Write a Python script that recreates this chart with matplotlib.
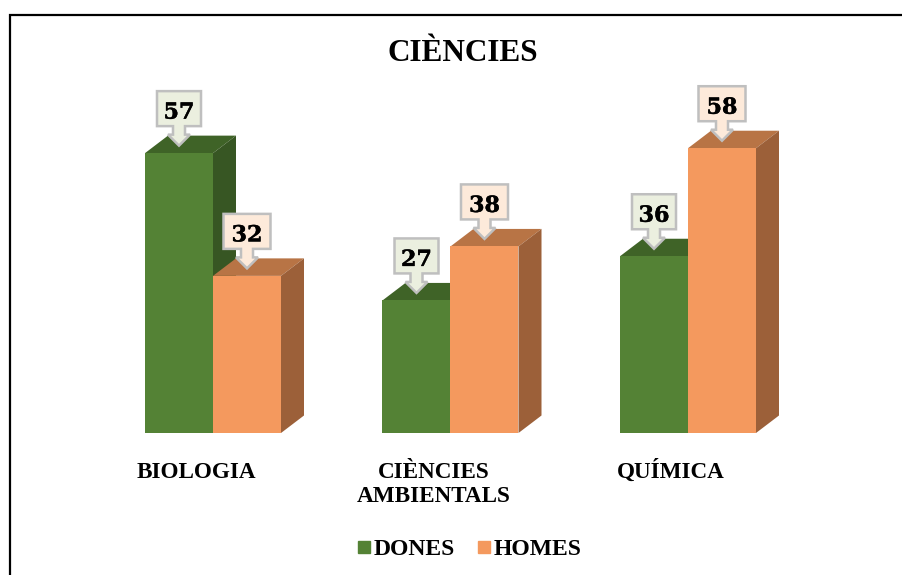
import matplotlib
matplotlib.use('Agg')
import matplotlib.pyplot as plt
import matplotlib.patheffects as pe
from matplotlib.patches import Polygon
from matplotlib.lines import Line2D

# data
categories = ['BIOLOGIA', 'CIÈNCIES\nAMBIENTALS', 'QUÍMICA']
dones = [57, 27, 36]
homes = [32, 38, 58]

SERIF = ['Liberation Serif', 'DejaVu Serif']

# size of one pixel in data units
px_x = 1 / 237.5
px_y = 1 / 4.91

width = 68 * px_x
depth_x = 23 * px_x
depth_y = 17.5 * px_y

fig = plt.figure(figsize=(9.03, 5.75), dpi=100, facecolor='white')
ax = fig.add_axes([0, 0, 1, 1])
ax.set_xlim(-213 * px_x, (903 - 213) * px_x)
ax.set_ylim(-(575 - 433) * px_y, 433 * px_y)
ax.axis('off')


def draw_bars(xs, values, front, top, side, label, z):
    bars = ax.bar(xs, values, width=width, align='edge', color=front, label=label, zorder=z + 1)
    for x, v in zip(xs, values):
        # top and side faces of the fake 3d bar
        ax.add_patch(Polygon([(x, v), (x + width, v), (x + width + depth_x, v + depth_y), (x + depth_x, v + depth_y)],
                             facecolor=top, edgecolor='none', zorder=z))
        ax.add_patch(Polygon([(x + width, 0), (x + width + depth_x, depth_y), (x + width + depth_x, v + depth_y), (x + width, v)],
                             facecolor=side, edgecolor='none', zorder=z))
    return bars


def callout(x, v, fill, box_w, box_h=35):
    # tip sits just above the front face, centred on the bar
    cx = x + width / 2
    tip = v + 7.5 * px_y
    head = tip + 11 * px_y
    bottom = tip + 19.5 * px_y
    hw = box_w / 2 * px_x
    pts = [(cx - hw, bottom), (cx - 6 * px_x, bottom), (cx - 6 * px_x, head), (cx - 11 * px_x, head), (cx, tip),
           (cx + 11 * px_x, head), (cx + 6 * px_x, head), (cx + 6 * px_x, bottom), (cx + hw, bottom),
           (cx + hw, bottom + box_h * px_y), (cx - hw, bottom + box_h * px_y)]
    ax.add_patch(Polygon(pts, facecolor=fill, edgecolor='#BFBFBF', linewidth=1.8, zorder=10))
    t = ax.text(cx, bottom + (box_h / 2 - 4) * px_y, str(v), ha='center', va='center', fontsize=16,
                fontweight='bold', family='DejaVu Serif', color='black', zorder=11)
    t.set_path_effects([pe.withStroke(linewidth=0.3, foreground='black')])


x_dones = [i - width for i in range(len(categories))]
x_homes = [i for i in range(len(categories))]

h1 = draw_bars(x_dones, dones, '#548235', '#3F6327', '#375623', 'DONES', 2)
h2 = draw_bars(x_homes, homes, '#F4995E', '#B87445', '#9C6039', 'HOMES', 4)

for x, v in zip(x_dones, dones):
    callout(x, v, '#EBEFDF', 44)
for x, v in zip(x_homes, homes):
    callout(x, v, '#FDEADA', 47)

# category labels, shifted left of the group centre like the original
for i, name in enumerate(categories):
    for j, line in enumerate(name.split('\n')):
        ax.text(i - 17 * px_x, (-45 - 24 * j) * px_y, line, ha='center', va='baseline', fontsize=16.7,
                fontweight='bold', family=SERIF, color='black')

fig.text(463 / 903, 1 - 61 / 575, 'CIÈNCIES', ha='center', va='baseline', fontsize=22.5, fontweight='bold',
         family=SERIF, color='black')

handles = [Line2D([], [], linestyle='none', marker='s', markersize=8.3, color='#548235'),
           Line2D([], [], linestyle='none', marker='s', markersize=8.3, color='#F4995E')]
ax.legend(handles, ['DONES', 'HOMES'], ncol=2, frameon=False, loc='center', bbox_to_anchor=(467 / 903, 1 - 549 / 575),
          bbox_transform=fig.transFigure, prop={'family': SERIF, 'weight': 'bold', 'size': 17},
          handletextpad=-0.1, columnspacing=0.73, handlelength=1.0)

# page border, left and top only
fig.add_artist(Line2D([10 / 903, 10 / 903, 1], [0, 1 - 15 / 575, 1 - 15 / 575], color='black', linewidth=1.6,
                      solid_joinstyle='miter'))

fig.savefig('out.png', dpi=100)
